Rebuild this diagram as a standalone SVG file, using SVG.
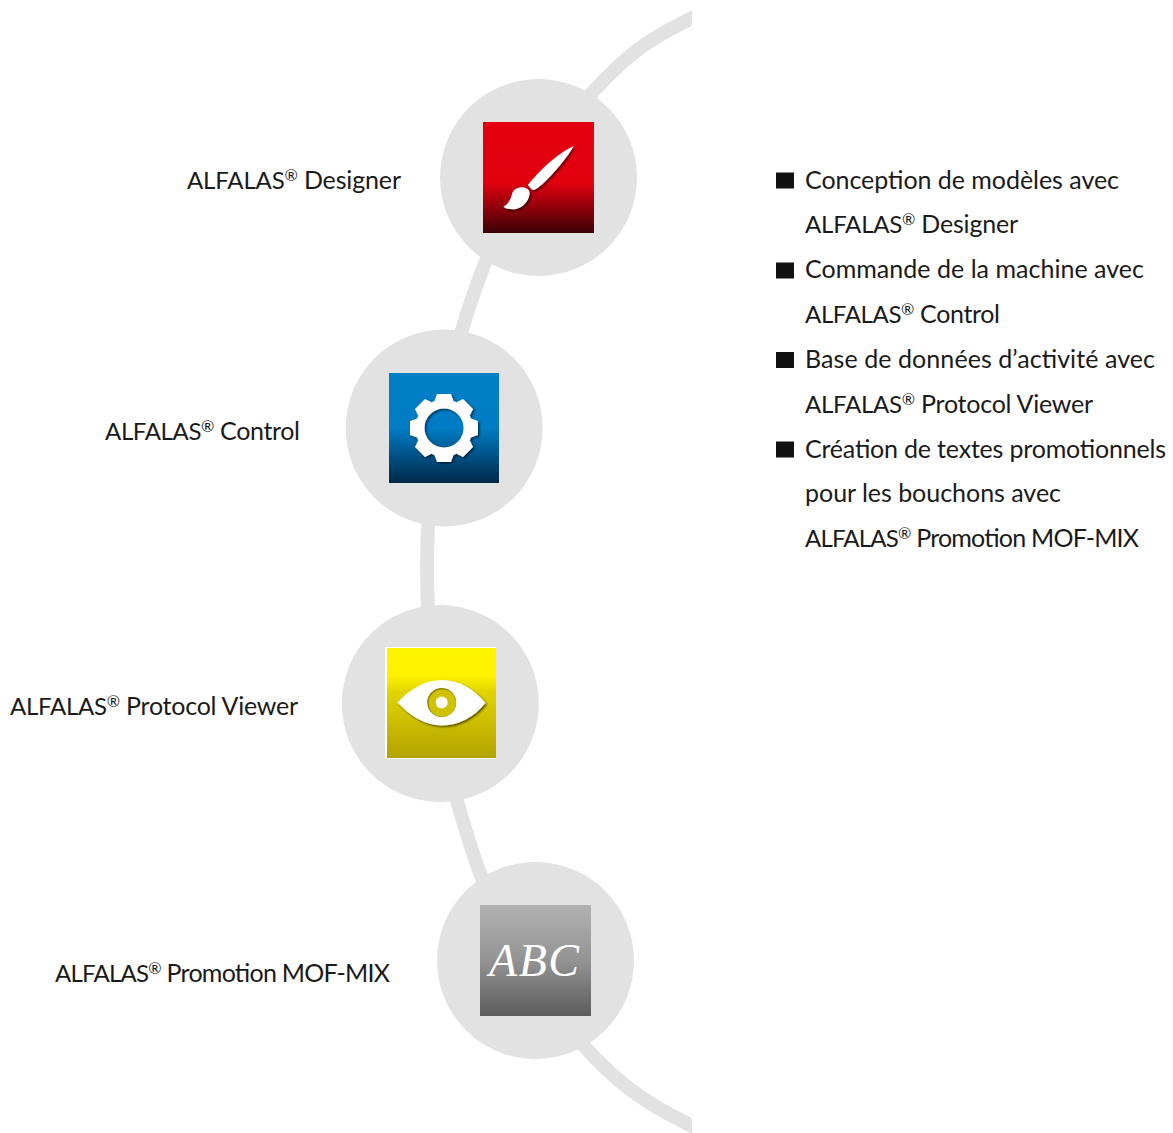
<svg xmlns="http://www.w3.org/2000/svg" width="1173" height="1133" viewBox="0 0 1173 1133">
<style>
.t{font-family:"Lato","Liberation Sans",sans-serif;font-size:25px;fill:#1a1a1a}
.a{font-size:24px}
.r{font-size:16px}
.c{fill:#e2e2e2}
.w{fill:#fff}
.b{fill:#111}
</style>
<defs>
<linearGradient id="gr" x1="0" y1="0" x2="0" y2="1"><stop offset="0" stop-color="#e3000f"/><stop offset=".55" stop-color="#e0000e"/><stop offset="1" stop-color="#3a0006"/></linearGradient>
<linearGradient id="gb" x1="0" y1="0" x2="0" y2="1"><stop offset="0" stop-color="#007fc8"/><stop offset=".5" stop-color="#007cc4"/><stop offset="1" stop-color="#00284a"/></linearGradient>
<linearGradient id="gy" x1="0" y1="0" x2="0" y2="1"><stop offset="0" stop-color="#fff500"/><stop offset=".25" stop-color="#fff200"/><stop offset=".4" stop-color="#e0d400"/><stop offset="1" stop-color="#b3a300"/></linearGradient>
<linearGradient id="gg" x1="0" y1="0" x2="0" y2="1"><stop offset="0" stop-color="#b2b2b2"/><stop offset=".5" stop-color="#939393"/><stop offset="1" stop-color="#5c5c5c"/></linearGradient>
<filter id="s1" x="-20%" y="-20%" width="140%" height="140%"><feDropShadow dx="1.5" dy="1.5" stdDeviation="1.2" flood-color="#000" flood-opacity=".6"/></filter>
<clipPath id="cut"><rect x="0" y="0" width="692" height="1133"/></clipPath>
<polygon id="tooth" points="-9.500,-27 -7,-34 7,-34 9.500,-27"/>
</defs>
<g id="connectors" clip-path="url(#cut)">
<path fill="none" stroke="#e2e2e2" stroke-width="13.800" d="M712 8L692 18C652 38 631 50 591 94C547.700 143.800 509.400 199.400 485.700 261C476.700 284.300 468.700 307 461.700 331C439.400 406.800 427 486 427 565C427 644 434.700 725 456.700 800C464 825 471.500 851 480.700 875C504.400 936.600 540.700 996 583.700 1046C623.700 1090 652 1106 692 1126L712 1136"/>
</g>
<g id="node-designer">
<circle class="c" cx="538.500" cy="177.500" r="98.500"/>
<rect x="483" y="122" width="111" height="111" fill="url(#gr)"/>
<g class="w" filter="url(#s1)">
<path d="M574 146C560 152 545 165 532 180C530 182 528 184 528 185.500L532.500 190C535 190 537 188.500 539 187C548 180 564 162 574 146Z"/>
<path d="M503.300 206.700C509 204 511 198 512 194C513.500 189 518 187 523 187.300C527 188 530 190 529.500 194C529 201 522 208 516 209C511 209.500 506 209 503.300 206.700Z"/>
</g>
<text class="t" x="187" y="189" textLength="214"><tspan class="a">ALFALAS</tspan><tspan class="r" dy="-8">®</tspan><tspan dy="8"> Designer</tspan></text>
</g>
<g id="node-control">
<circle class="c" cx="444.200" cy="428" r="98.500"/>
<rect x="389" y="373" width="110" height="110" fill="url(#gb)"/>
<g class="w" filter="url(#s1)">
<g transform="translate(444 428)">
<circle r="24" fill="none" stroke="#fff" stroke-width="9"/>
<use href="#tooth"/>
<use href="#tooth" transform="rotate(45)"/>
<use href="#tooth" transform="rotate(90)"/>
<use href="#tooth" transform="rotate(135)"/>
<use href="#tooth" transform="rotate(180)"/>
<use href="#tooth" transform="rotate(225)"/>
<use href="#tooth" transform="rotate(270)"/>
<use href="#tooth" transform="rotate(315)"/>
</g>
</g>
<text class="t" x="105" y="440" textLength="195"><tspan class="a">ALFALAS</tspan><tspan class="r" dy="-8">®</tspan><tspan dy="8"> Control</tspan></text>
</g>
<g id="node-viewer">
<circle class="c" cx="440.300" cy="703.500" r="98.500"/>
<rect x="385" y="647" width="111" height="112" fill="#fff"/>
<rect x="387" y="648" width="109" height="110" fill="url(#gy)"/>
<g filter="url(#s1)">
<path class="w" d="M397.500 702.500C410 689 425 680 442 680C459 680 474 689 485.500 703C474 717 459 725.500 442 725.500C425 725.500 410 716 397.500 702.500Z"/>
</g>
<circle cx="441.700" cy="702.500" r="14.500" fill="#8f8500"/>
<circle cx="442.300" cy="703.100" r="13.700" fill="#d0c200"/>
<circle cx="441.700" cy="702.500" r="6" class="w"/>
<text class="t" x="10" y="715" textLength="288"><tspan class="a">ALFALAS</tspan><tspan class="r" dy="-8">®</tspan><tspan dy="8"> Protocol Viewer</tspan></text>
</g>
<g id="node-promotion">
<circle class="c" cx="535.500" cy="960.500" r="98.500"/>
<rect x="480" y="905" width="111" height="111" fill="url(#gg)"/>
<text x="489" y="976" textLength="90" font-family="'Liberation Serif',serif" font-style="italic" font-size="46" fill="#fff">ABC</text>
<text class="t" x="55" y="982" textLength="335"><tspan class="a">ALFALAS</tspan><tspan class="r" dy="-8">®</tspan><tspan dy="8"> Promotion MOF-MIX</tspan></text>
</g>
<g id="list">
<rect class="b" x="776" y="172.500" width="18" height="16"/>
<rect class="b" x="776" y="262.500" width="18" height="16"/>
<rect class="b" x="776" y="352" width="18" height="16"/>
<rect class="b" x="776" y="441.500" width="18" height="16"/>
<text class="t" x="805" y="189" textLength="314">Conception de modèles avec</text>
<text class="t" x="805" y="233" textLength="213"><tspan class="a">ALFALAS</tspan><tspan class="r" dy="-8">®</tspan><tspan dy="8"> Designer</tspan></text>
<text class="t" x="805" y="278" textLength="339">Commande de la machine avec</text>
<text class="t" x="805" y="323" textLength="195"><tspan class="a">ALFALAS</tspan><tspan class="r" dy="-8">®</tspan><tspan dy="8"> Control</tspan></text>
<text class="t" x="805" y="368" textLength="350">Base de données d’activité avec</text>
<text class="t" x="805" y="413" textLength="288"><tspan class="a">ALFALAS</tspan><tspan class="r" dy="-8">®</tspan><tspan dy="8"> Protocol Viewer</tspan></text>
<text class="t" x="805" y="458" textLength="361">Création de textes promotionnels</text>
<text class="t" x="805" y="502" textLength="256">pour les bouchons avec</text>
<text class="t" x="805" y="547" textLength="334"><tspan class="a">ALFALAS</tspan><tspan class="r" dy="-8">®</tspan><tspan dy="8"> Promotion MOF-MIX</tspan></text>
</g>
</svg>
